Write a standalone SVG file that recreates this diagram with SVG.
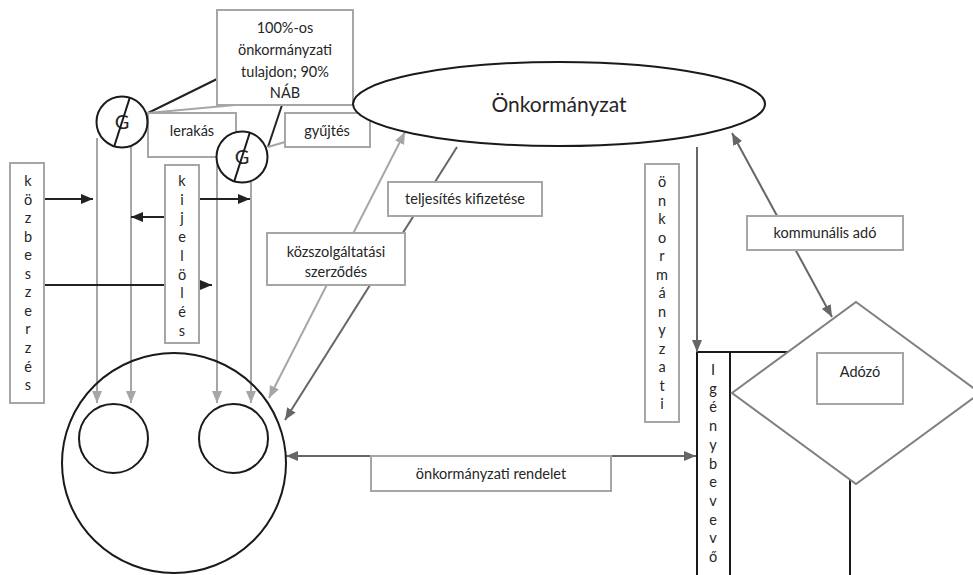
<svg xmlns="http://www.w3.org/2000/svg" width="973" height="575" viewBox="0 0 973 575">
<style>
text{font-family:Lato,"Open Sans","Liberation Sans",sans-serif;font-size:14.5px;fill:#262626;text-anchor:middle}
.box{fill:#fff;stroke:#a6a6a6;stroke-width:2}
.blk{fill:none;stroke:#1a1a1a;stroke-width:2}
.blkf{fill:#fff;stroke:#1a1a1a;stroke-width:2}
.lb{stroke:#222;stroke-width:2;fill:none}
.ld{stroke:#666;stroke-width:2;fill:none}
.ll{stroke:#a6a6a6;stroke-width:2;fill:none}
.big{font-size:21px}
.g{font-size:20px}
</style>
<defs>
<marker id="ab" markerUnits="userSpaceOnUse" markerWidth="12" markerHeight="10" refX="12" refY="5" orient="auto-start-reverse"><path d="M0,0L12,5L0,10z" fill="#222"/></marker>
<marker id="ad" markerUnits="userSpaceOnUse" markerWidth="12" markerHeight="10" refX="12" refY="5" orient="auto-start-reverse"><path d="M0,0L12,5L0,10z" fill="#666"/></marker>
<marker id="al" markerUnits="userSpaceOnUse" markerWidth="12" markerHeight="10" refX="12" refY="5" orient="auto-start-reverse"><path d="M0,0L12,5L0,10z" fill="#a6a6a6"/></marker>
</defs>
<rect width="973" height="575" fill="#fff"/>

<g id="igenybevevo-frame">
<rect class="blk" x="697" y="352" width="153" height="240"/>
<line class="blk" x1="730" y1="352" x2="730" y2="575"/>
</g>

<g id="connectors">
<line class="lb" x1="148" y1="113" x2="217" y2="79"/>
<line class="lb" x1="268" y1="147" x2="282" y2="105"/>
<line class="ll" x1="148" y1="113" x2="235" y2="105"/>
<line class="ll" x1="268" y1="147" x2="285" y2="142"/>
<line class="ll" x1="97" y1="138" x2="97" y2="403" marker-end="url(#al)"/>
<line class="ll" x1="131" y1="147" x2="131" y2="403" marker-end="url(#al)"/>
<line class="ll" x1="217" y1="157" x2="217" y2="403" marker-end="url(#al)"/>
<line class="ll" x1="251" y1="182" x2="251" y2="403" marker-end="url(#al)"/>
<line class="lb" x1="44" y1="199" x2="93" y2="199" marker-end="url(#ab)"/>
<line class="lb" x1="165" y1="217" x2="131" y2="217" marker-end="url(#ab)"/>
<line class="lb" x1="199" y1="199" x2="250" y2="199" marker-end="url(#ab)"/>
<line class="lb" x1="44" y1="285" x2="212" y2="285" marker-end="url(#ab)"/>
<line class="ll" x1="269" y1="398" x2="405" y2="132" marker-start="url(#al)" marker-end="url(#al)"/>
<line class="ld" x1="457" y1="147" x2="285" y2="420" marker-end="url(#ad)"/>
<line class="ld" x1="286" y1="456" x2="696" y2="456" marker-start="url(#ad)" marker-end="url(#ad)"/>
<line class="ld" x1="697" y1="147" x2="697" y2="352" marker-end="url(#ad)"/>
<line class="ld" x1="732" y1="133" x2="832" y2="317" marker-start="url(#ad)" marker-end="url(#ad)"/>
</g>

<g id="tulajdon">
<rect class="box" x="217" y="10" width="136" height="95"/>
<text x="285" y="33">100%-os</text>
<text x="285" y="55">önkormányzati</text>
<text x="285" y="77">tulajdon; 90%</text>
<text x="285" y="98">NÁB</text>
</g>

<g id="lerakas">
<rect class="box" x="148" y="113" width="88" height="44"/>
<text x="192" y="136">lerakás</text>
</g>

<g id="gyujtes">
<rect class="box" x="285" y="113" width="85" height="34"/>
<text x="327" y="136">gyűjtés</text>
</g>

<g id="g1">
<circle class="blkf" cx="122" cy="122" r="25.5"/>
<text class="g" x="122" y="129">G</text>
<line class="blk" x1="130" y1="97" x2="114" y2="147"/>
</g>

<g id="g2">
<circle class="blkf" cx="242" cy="157" r="25.5"/>
<text class="g" x="242" y="164">G</text>
<line class="blk" x1="250" y1="132" x2="234" y2="182"/>
</g>

<g id="onkormanyzat">
<ellipse class="blkf" cx="559" cy="104" rx="206" ry="42"/>
<text class="big" x="559" y="112">Önkormányzat</text>
</g>

<g id="kozbeszerzes">
<rect class="box" x="10" y="163" width="34" height="240"/>
<text x="28" y="186"><tspan x="28">k</tspan><tspan x="28" dy="18.55">ö</tspan><tspan x="28" dy="18.55">z</tspan><tspan x="28" dy="18.55">b</tspan><tspan x="28" dy="18.55">e</tspan><tspan x="28" dy="18.55">s</tspan><tspan x="28" dy="18.55">z</tspan><tspan x="28" dy="18.55">e</tspan><tspan x="28" dy="18.55">r</tspan><tspan x="28" dy="18.55">z</tspan><tspan x="28" dy="18.55">é</tspan><tspan x="28" dy="18.55">s</tspan></text>
</g>

<g id="kijeloles">
<rect class="box" x="165" y="165" width="34" height="178"/>
<text x="182" y="186"><tspan x="182">k</tspan><tspan x="182" dy="18.7">i</tspan><tspan x="182" dy="18.7">j</tspan><tspan x="182" dy="18.7">e</tspan><tspan x="182" dy="18.7">l</tspan><tspan x="182" dy="18.7">ö</tspan><tspan x="182" dy="18.7">l</tspan><tspan x="182" dy="18.7">é</tspan><tspan x="182" dy="18.7">s</tspan></text>
</g>

<g id="kozszolgaltatasi">
<rect class="box" x="267" y="233" width="138" height="52"/>
<text x="336" y="257">közszolgáltatási</text>
<text x="336" y="277">szerződés</text>
</g>

<g id="teljesites">
<rect class="box" x="388" y="182" width="154" height="34"/>
<text x="465" y="204">teljesítés kifizetése</text>
</g>

<g id="rendelet">
<rect class="box" x="371" y="456" width="240" height="35"/>
<text x="491" y="479">önkormányzati rendelet</text>
</g>

<g id="onkormanyzati-v">
<rect class="box" x="645" y="164" width="34" height="258"/>
<text x="662" y="187"><tspan x="662">ö</tspan><tspan x="662" dy="18.5">n</tspan><tspan x="662" dy="18.5">k</tspan><tspan x="662" dy="18.5">o</tspan><tspan x="662" dy="18.5">r</tspan><tspan x="662" dy="18.5">m</tspan><tspan x="662" dy="18.5">á</tspan><tspan x="662" dy="18.5">n</tspan><tspan x="662" dy="18.5">y</tspan><tspan x="662" dy="18.5">z</tspan><tspan x="662" dy="18.5">a</tspan><tspan x="662" dy="18.5">t</tspan><tspan x="662" dy="18.5">i</tspan></text>
</g>

<g id="kommunalis">
<rect class="box" x="747" y="216" width="156" height="34"/>
<text x="825" y="238">kommunális adó</text>
</g>

<g id="igenybevevo">
<text x="713" y="375"><tspan x="713">I</tspan><tspan x="713" dy="18.7">g</tspan><tspan x="713" dy="18.7">é</tspan><tspan x="713" dy="18.7">n</tspan><tspan x="713" dy="18.7">y</tspan><tspan x="713" dy="18.7">b</tspan><tspan x="713" dy="18.7">e</tspan><tspan x="713" dy="18.7">v</tspan><tspan x="713" dy="18.7">e</tspan><tspan x="713" dy="18.7">v</tspan><tspan x="713" dy="18.7">ő</tspan></text>
</g>

<g id="adozo-diamond">
<polygon points="856,302 980,393 856,484 732,393" fill="#fff" stroke="#808080" stroke-width="2"/>
</g>

<g id="adozo">
<rect class="box" x="817" y="353" width="86" height="51"/>
<text x="860" y="377">Adózó</text>
</g>

<g id="big-circle">
<ellipse class="blk" cx="174" cy="463" rx="112" ry="110"/>
<circle class="blk" cx="113.5" cy="438.5" r="34.5"/>
<circle class="blk" cx="233.5" cy="438.5" r="34.5"/>
</g>
</svg>
